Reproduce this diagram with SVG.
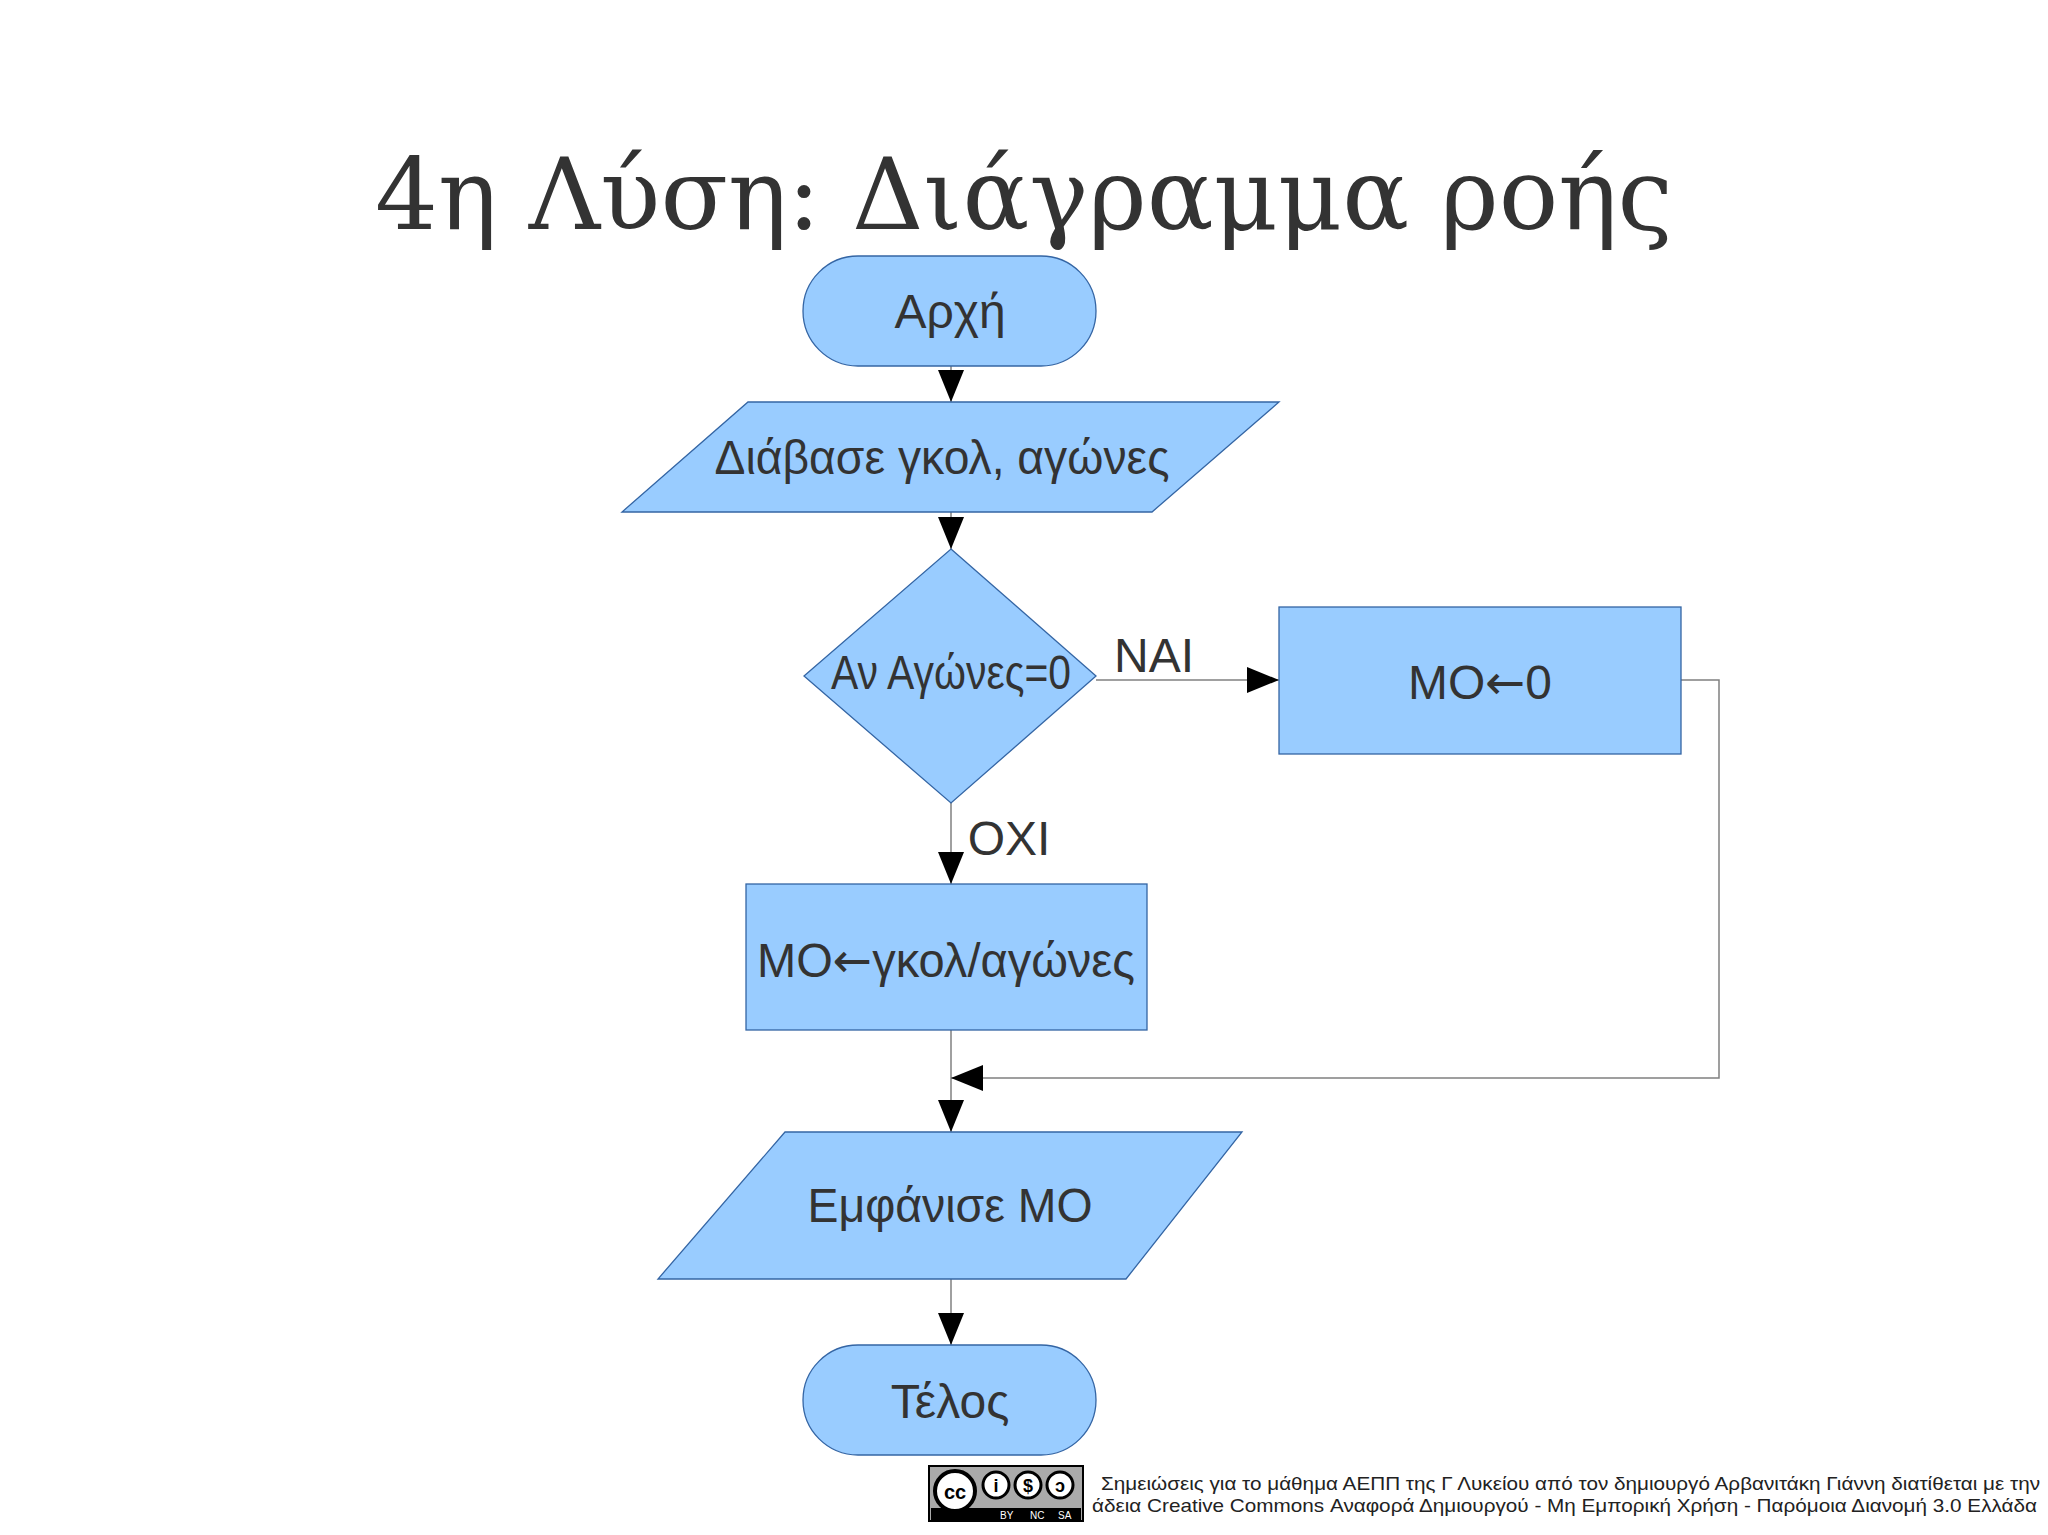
<svg xmlns="http://www.w3.org/2000/svg" width="2048" height="1535" viewBox="0 0 2048 1535">
<style>
.n{fill:#99ccff;stroke:#3465a4;stroke-width:1.3}
.t{font-family:"Liberation Sans","DejaVu Sans",sans-serif;fill:#333;text-anchor:middle;font-size:48px}
.ar{font-family:"DejaVu Sans",sans-serif}
.c{fill:none;stroke:#808080;stroke-width:1.5}
.f{font-family:"Liberation Sans","DejaVu Sans",sans-serif;fill:#222;font-size:19px}
</style>
<defs>
<marker id="b" viewBox="0 0 32 26" refX="32" refY="13" markerWidth="32" markerHeight="26" markerUnits="userSpaceOnUse" orient="auto"><path d="M0,0L32,13L0,26Z" fill="#000"/></marker></defs>
<rect width="2048" height="1535" fill="#fff"/>
<text x="1024" y="229" font-family="'DejaVu Serif','Liberation Serif',serif" font-size="99" fill="#333" text-anchor="middle">4η Λύση: Διάγραμμα ροής</text>
<g id="connectors">
<line class="c" x1="951" y1="366" x2="951" y2="402" marker-end="url(#b)"/>
<line class="c" x1="951" y1="512" x2="951" y2="549" marker-end="url(#b)"/>
<line class="c" x1="1096" y1="680" x2="1279" y2="680" marker-end="url(#b)"/>
<line class="c" x1="951" y1="803" x2="951" y2="884" marker-end="url(#b)"/>
<line class="c" x1="951" y1="1030" x2="951" y2="1132" marker-end="url(#b)"/>
<polyline class="c" points="1681,680 1719,680 1719,1078 951,1078" marker-end="url(#b)"/>
<line class="c" x1="951" y1="1279" x2="951" y2="1345" marker-end="url(#b)"/>
<text class="t" x="1154" y="672" font-size="44">ΝΑΙ</text>
<text class="t" x="1009" y="855" font-size="44">ΟΧΙ</text>
</g>
<g id="start"><rect class="n" x="803" y="256" width="293" height="110" rx="55"/><text class="t" x="950" y="328">Αρχή</text></g>
<g id="read"><polygon class="n" points="748,402 1279,402 1152,512 622,512"/><text class="t" x="942" y="474" textLength="455" lengthAdjust="spacingAndGlyphs">Διάβασε γκολ, αγώνες</text></g>
<g id="decision"><polygon class="n" points="951,549 1096,676 951,803 804,676"/><text class="t" x="951" y="689" font-size="40" textLength="240" lengthAdjust="spacingAndGlyphs">Αν Αγώνες=0</text></g>
<g id="mo0"><rect class="n" x="1279" y="607" width="402" height="147"/><text class="t" x="1480" y="699" textLength="144" lengthAdjust="spacingAndGlyphs">ΜΟ<tspan class="ar">←</tspan>0</text></g>
<g id="moDiv"><rect class="n" x="746" y="884" width="401" height="146"/><text class="t" x="946" y="977" textLength="378" lengthAdjust="spacingAndGlyphs">ΜΟ<tspan class="ar">←</tspan>γκολ/αγώνες</text></g>
<g id="show"><polygon class="n" points="785,1132 1242,1132 1126,1279 658,1279"/><text class="t" x="950" y="1222" textLength="285" lengthAdjust="spacingAndGlyphs">Εμφάνισε ΜΟ</text></g>
<g id="end"><rect class="n" x="803" y="1345" width="293" height="110" rx="55"/><text class="t" x="950" y="1418">Τέλος</text></g>
<g id="license">
<rect x="929" y="1466" width="154" height="55" fill="#aaa" stroke="#000" stroke-width="2"/>
<rect x="931" y="1508" width="150" height="12" fill="#000"/>
<circle cx="955" cy="1491" r="20" fill="#fff" stroke="#000" stroke-width="4"/>
<text x="955" y="1499" font-family="Liberation Sans,sans-serif" font-weight="bold" font-size="20" text-anchor="middle">cc</text>
<circle cx="996" cy="1485" r="13" fill="#fff" stroke="#000" stroke-width="3"/>
<circle cx="1028" cy="1485" r="13" fill="#fff" stroke="#000" stroke-width="3"/>
<circle cx="1060" cy="1485" r="13" fill="#fff" stroke="#000" stroke-width="3"/>
<text x="996" y="1492" font-family="Liberation Sans,sans-serif" font-weight="bold" font-size="18" text-anchor="middle">i</text>
<text x="1028" y="1492" font-family="Liberation Sans,sans-serif" font-weight="bold" font-size="18" text-anchor="middle">$</text>
<text x="1060" y="1492" font-family="Liberation Sans,sans-serif" font-weight="bold" font-size="18" text-anchor="middle">ↄ</text>
<text x="1000" y="1519" font-family="Liberation Sans,sans-serif" font-size="10" fill="#fff">BY</text>
<text x="1030" y="1519" font-family="Liberation Sans,sans-serif" font-size="10" fill="#fff">NC</text>
<text x="1058" y="1519" font-family="Liberation Sans,sans-serif" font-size="10" fill="#fff">SA</text>
<text class="f" x="1101" y="1490" textLength="939" lengthAdjust="spacingAndGlyphs">Σημειώσεις για το μάθημα ΑΕΠΠ της Γ Λυκείου από τον δημιουργό Αρβανιτάκη Γιάννη διατίθεται με την</text>
<text class="f" x="1092" y="1512" textLength="945" lengthAdjust="spacingAndGlyphs">άδεια Creative Commons Αναφορά Δημιουργού - Μη Εμπορική Χρήση - Παρόμοια Διανομή 3.0 Ελλάδα</text>
</g>
</svg>
